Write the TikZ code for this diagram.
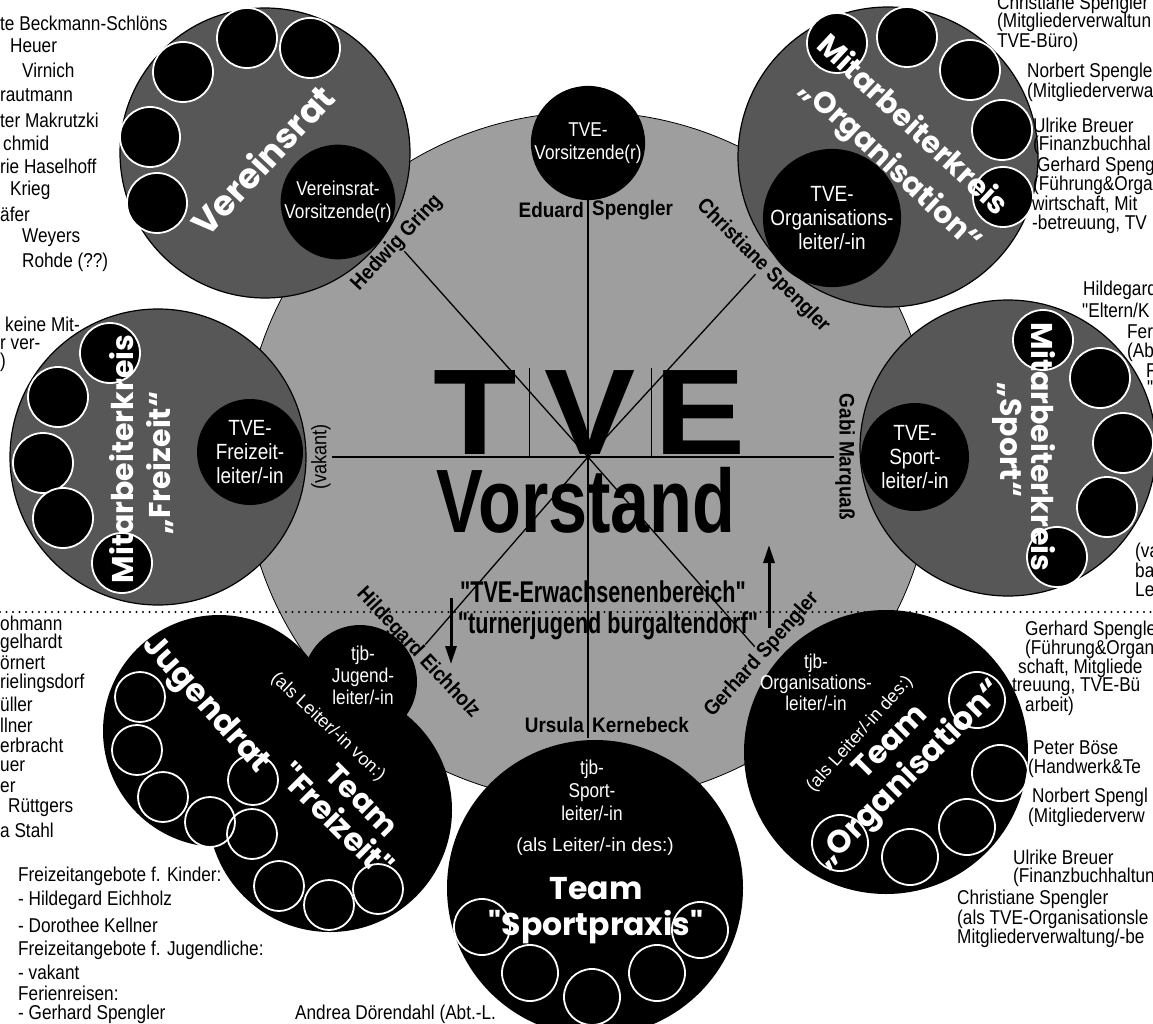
\documentclass[tikz,border=0pt]{standalone}
\usepackage{fontspec}
\usepackage{graphicx}
\setmainfont{Liberation Sans}
\newfontfamily\cnd{Liberation Sans}[FakeStretch=0.86]
\newfontfamily\nmf{Liberation Sans}[FakeStretch=0.9]
\newfontfamily\geo{Poppins}
\usetikzlibrary{arrows.meta,calc}
\newcommand{\fsz}[2]{\fontsize{#1}{#2}\selectfont}
\begin{document}
\begin{tikzpicture}[x=1pt,y=-1pt,
  dark/.style={circle, fill=black!66, draw=black, line width=1.2pt, inner sep=0pt},
  blkc/.style={circle, fill=black, inner sep=0pt, text=white, align=center},
  blob/.style={circle, fill=black, inner sep=0pt},
  smc/.style={fill=black, draw=white, line width=1.8pt},
  ring/.style={draw=white, line width=1.8pt},
  lst/.style={anchor=west, inner sep=0pt, font=\cnd\fsz{20}{22}},
  nm/.style={font=\nmf\bfseries\fsz{21}{23}, inner sep=1pt},
  big/.style={font=\geo\bfseries\fsz{#1}{#1}, text=white, inner sep=0pt},
  spoke/.style={line width=1.3pt},
  arr/.style={line width=3pt, -{Triangle[length=18pt,width=11pt]}},
  dotline/.style={line width=2.4pt, line cap=round, dash pattern=on 0pt off 6.5pt}
]
\useasboundingbox (0,0) rectangle (1153,1024);
\fill[white] (0,0) rectangle (1153,1024);
\clip (0,0) rectangle (1153,1024);

% central stippled disk
\node[circle, fill=black!38, draw=black, line width=0.8pt, minimum size=690pt, inner sep=0pt] (disk) at (588,457) {};
\coordinate (ctr) at (588,457);

% ---- Vereinsrat
\node[dark, minimum size=290pt] (vrat) at (265,153) {};
\foreach \p in {(183,72),(247,38),(310,48),(150,137),(157,203)} \draw[smc] \p circle (30pt);
\node[blkc, minimum size=114pt, font=\cnd\fsz{20}{23}] (vratv) at (338,202) {Vereinsrat-\\Vorsitzende(r)};
\node[big=35, rotate=47] (vratl) at (262,160) {Vereinsrat};

% ---- Mitarbeiterkreis Organisation
\node[dark, minimum size=300pt] (org) at (888,157) {};
\foreach \p in {(837,43),(907,37),(970,70),(1002,130),(1003,197)} \draw[smc] \p circle (30pt);
\node[blkc, minimum size=118pt, font=\cnd\fsz{22}{24}] (orgl) at (832,218) {TVE-\\Organisations-\\leiter/-in};
\node[big=30, rotate=-43] (orgt1) at (914,124) {Mitarbeiterkreis};
\node[big=30, rotate=-43] (orgt2) at (890,166) {„Organisation“};

% ---- Mitarbeiterkreis Freizeit
\node[dark, minimum size=296pt] (frz) at (158,457) {};
\foreach \p in {(110,353),(58,397),(43,463),(63,518),(122,563)} \draw[smc] \p circle (30pt);
\node[blkc, minimum size=106pt, font=\cnd\fsz{22}{24}] (frzl) at (250,452) {TVE-\\Freizeit-\\leiter/-in};
\node[big=30, rotate=90] (frzt1) at (122,459) {Mitarbeiterkreis};
\node[big=30, rotate=90] (frzt2) at (160,463) {„Freizeit“};

% ---- Mitarbeiterkreis Sport
\node[dark, minimum size=296pt] (spt) at (1008,448) {};
\foreach \p in {(1043,340),(1100,378),(1123,443),(1107,507),(1057,557)} \draw[smc] \p circle (30pt);
\node[blkc, minimum size=108pt, font=\cnd\fsz{22}{24}] (sptl) at (915,457) {TVE-\\Sport-\\leiter/-in};
\node[big=30, rotate=-90] (sptt1) at (1043,447) {Mitarbeiterkreis};
\node[big=30, rotate=-90] (sptt2) at (1007,440) {„Sport“};

% ---- Vorsitzende
\node[blkc, minimum size=110pt, font=\cnd\fsz{20}{23}] (vors) at (588,143) {TVE-\\Vorsitzende(r)};

% ---- spokes and names
\node[nm, anchor=east] (ed1) at (585,210) {Eduard};
\node[nm, anchor=west] (ed2) at (591,210) {Spengler};
\node[nm, anchor=east] (ur1) at (585,725) {Ursula};
\node[nm, anchor=west] (ur2) at (591,725) {Kernebeck};
\coordinate (vbot) at (588,738);
\draw[spoke] (vors.south) -- (vbot);
\node[nm, rotate=90, font=\cnd\fsz{21}{23}] (vak) at (321,457) {(vakant)};
\node[nm, rotate=-90] (gabi) at (845,457) {Gabi Marquaß};
\draw[spoke] (vak) -- (gabi);
\node[nm, rotate=47] (hed) at (397,243) {Hedwig Gring};
\node[nm, rotate=-45] (chr) at (763,266) {Christiane Spengler};
\node[nm, rotate=-47] (hil) at (418,653) {Hildegard Eichholz};
\node[nm, rotate=48] (ger) at (762,655) {Gerhard Spengler};
\draw[spoke] (ctr) -- (hed);
\draw[spoke] (ctr) -- (chr);
\draw[spoke] (ctr) -- (hil);
\draw[spoke] (ctr) -- (ger);

% ---- TVE Vorstand
\node[font=\bfseries\fsz{122}{122}, anchor=base, inner sep=0pt] (tT) at (475,454) {\scalebox{1.12}[1]{T}};
\node[font=\bfseries\fsz{122}{122}, anchor=base, inner sep=0pt] (tV) at (590,454) {\scalebox{1.12}[1]{V}};
\node[font=\bfseries\fsz{122}{122}, anchor=base, inner sep=0pt] (tE) at (700,454) {\scalebox{1.12}[1]{E}};
\draw[line width=1pt] (529,368) -- (529,457);
\draw[line width=1pt] (651,368) -- (651,457);
\node[font=\bfseries\fsz{90}{90}, anchor=base, inner sep=0pt] (vst) at (586,532) {\scalebox{0.78}[1]{Vorstand}};

% ---- dotted divider
\coordinate (dl1) at (0,612);
\coordinate (dl2) at (1153,612);
\draw[dotline] (dl1) -- (dl2);

\node[font=\nmf\bfseries\fsz{30}{30}, inner sep=0pt] (erw) at (603,592) {\scalebox{0.8}[1]{"TVE-Erwachsenenbereich"}};
\node[font=\nmf\bfseries\fsz{30}{30}, inner sep=0pt] (tjb) at (608,626) {\scalebox{0.8}[1]{"turnerjugend burgaltendorf"}};
\coordinate (ua1) at (769,628);
\coordinate (ua2) at (769,545);
\draw[arr] (ua1) -- (ua2);
\coordinate (da1) at (451,598);
\coordinate (da2) at (451,664);
\draw[arr] (da1) -- (da2);

% ---- Jugendrat / Team Freizeit
\node[blob, minimum size=232pt] (jrat) at (219,731) {};
\node[blob, minimum size=244pt] (jfrz) at (330,810) {};
\node[blob, minimum size=114pt] (jl) at (360,682) {};
\node[text=white, align=center, font=\cnd\fsz{20}{22}, inner sep=0pt] (jlt) at (363,675) {tjb-\\Jugend-\\leiter/-in};
\foreach \p in {(140,697),(137,750),(163,797),(210,822),(252,834),(253,780),(279,886),(329,905),(378,889)} \draw[ring] \p circle (25pt);
\node[big=32, rotate=-48] (jt1) at (205,705) {Jugendrat};
\node[big=32, rotate=-45] (jt4) at (337,820) {"Freizeit"};
\node[big=30, rotate=-45] (jt2) at (362,800) {Team};
\node[rotate=-43, text=white, font=\fsz{18}{20}, inner sep=0pt] (jt3) at (328,727) {(als Leiter/-in von:)};

% ---- Sportpraxis
\node[blob, minimum size=296pt] (spx) at (595,888) {};
\foreach \p in {(482,927),(530,973),(592,997),(657,973),(700,930)} \draw[ring] \p circle (28pt);
\node[text=white, align=center, font=\cnd\fsz{20}{23}] (spxl) at (592,790) {tjb-\\Sport-\\leiter/-in};
\node[text=white, font=\fsz{19}{21}] (spx2) at (595,847) {(als Leiter/-in des:)};
\node[big=30, scale=1.05] (spx3) at (596,889) {Team};
\node[big=30, scale=1.05] (spx4) at (596,927) {"Sportpraxis"};

% ---- Team Organisation
\node[blob, minimum size=284pt] (tor) at (886,752) {};
\foreach \p in {(977,700),(1000,773),(967,827),(910,857),(840,843)} \draw[ring] \p circle (28pt);
\node[text=white, align=center, font=\cnd\fsz{20}{21}] (torl) at (816,682) {tjb-\\Organisations-\\leiter/-in};
\node[rotate=48, text=white, font=\fsz{18}{20}, inner sep=0pt] (tor2) at (860,734) {(als Leiter/-in des:)};
\node[big=31, rotate=45] (tor3) at (889,741) {Team};
\node[big=32, rotate=45] (tor4) at (910,775) {„Organisation“};

% ---- lists
\foreach \t/\x/\y [count=\i] in {{te Beckmann-Schlöns}/0/23, {Heuer}/10/46, {Virnich}/22/70, {rautmann}/0/95, {ter Makrutzki}/0/120, {chmid}/3/143, {rie Haselhoff}/0/166, {Krieg}/10/190, {äfer}/0/214, {Weyers}/22/238, {Rohde (??)}/22/262, {keine Mit-}/5/324, {r ver-}/0/344, {)}/0/362}
  \node[lst] (la\i) at (\x,\y) {\t};
\foreach \t/\x/\y [count=\i] in {{ohmann}/0/623, {gelhardt}/0/643, {örnert}/0/663, {rielingsdorf}/0/683, {üller}/0/704, {llner}/0/725, {erbracht}/0/745, {uer}/0/766, {er}/0/787, {Rüttgers}/8/808, {a Stahl}/0/830}
  \node[lst] (lb\i) at (\x,\y) {\t};
\foreach \t/\x/\y [count=\i] in {{Freizeitangebote f. Kinder:}/18/876, {- Hildegard Eichholz}/18/900, {- Dorothee Kellner}/18/925, {Freizeitangebote f. Jugendliche:}/18/950, {- vakant}/18/972, {Ferienreisen:}/18/993, {- Gerhard Spengler}/18/1014, {Andrea Dörendahl (Abt.-L.}/295/1014}
  \node[lst] (lc\i) at (\x,\y) {\t};
\foreach \t/\x/\y [count=\i] in {{Christiane Spengler}/997/4, {(Mitgliederverwaltun}/997/22, {TVE-Büro)}/997/42, {Norbert Spengle}/1027/72, {(Mitgliederverwa}/1027/92, {Ulrike Breuer}/1033/125, {(Finanzbuchhal}/1033/145, {Gerhard Speng}/1037/166, {(Führung\&Orga}/1033/185, {wirtschaft, Mit}/1032/205, {-betreuung, TV}/1032/224, {Hildegard}/1083/290, {"Eltern/K}/1082/310, {Fer}/1127/332, {(Ab}/1127/352, {F}/1146/371, {"}/1147/388, {(va}/1135/552, {ba}/1135/570, {Le}/1135/590}
  \node[lst] (ld\i) at (\x,\y) {\t};
\foreach \t/\x/\y [count=\i] in {{Gerhard Spengle}/1025/630, {(Führung\&Organ}/1025/649, {schaft, Mitgliede}/1018/668, {treuung, TVE-Bü}/1012/687, {arbeit)}/1025/706, {Peter Böse}/1033/748, {(Handwerk\&Te}/1028/768, {Norbert Spengl}/1032/797, {(Mitgliederverw}/1028/817, {Ulrike Breuer}/1013/857, {(Finanzbuchhaltun}/1013/877, {Christiane Spengler}/957/899, {(als TVE-Organisationsle}/957/919, {Mitgliederverwaltung/-be}/957/938}
  \node[lst] (le\i) at (\x,\y) {\t};
\end{tikzpicture}
\end{document}
